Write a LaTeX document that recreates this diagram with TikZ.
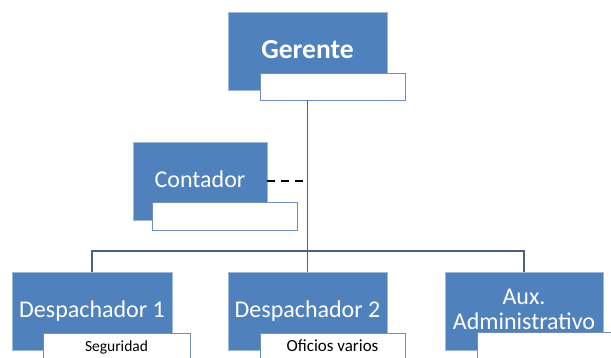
\documentclass[tikz,border=0pt]{standalone}
\usepackage{fontspec}
\setmainfont{Carlito}
\usepackage{tikz}
\usetikzlibrary{calc}
\definecolor{boxblue}{HTML}{4F81BD}
\definecolor{boxedge}{HTML}{9DB9DE}
\definecolor{subedge}{HTML}{6F8FBA}
\definecolor{linkcol}{HTML}{4A6480}

\begin{document}
\begin{tikzpicture}[x=1pt,y=-1pt,
  rolebox/.style={rectangle,fill=boxblue,draw=boxedge,line width=.6pt,text=white,
    align=center,inner sep=0pt,font=\fontsize{24}{25}\selectfont},
  subbox/.style={rectangle,fill=white,draw=subedge,line width=.8pt,text=black,
    inner sep=0pt,minimum height=28,font=\fontsize{15.5}{17}\selectfont},
  link/.style={draw=linkcol,line width=1.8pt}]
  \useasboundingbox (0,0) rectangle (611,358);
  \node[rolebox,minimum width=159,minimum height=78,font=\fontsize{27.5}{30}\selectfont\bfseries] (ger) at (307.5,51) {\raisebox{4pt}{Gerente}};
  \node[subbox,minimum width=145,minimum height=27] (gersub) at (332.5,86.5) {};
  \node[rolebox,minimum width=134,minimum height=78] (cont) at (200,181) {\raisebox{4pt}{Contador}};
  \node[subbox,minimum width=145] (contsub) at (224.5,216) {};
  \node[rolebox,minimum width=160,minimum height=78] (d1) at (92,311) {\raisebox{4pt}{Despachador 1}};
  \node[subbox,minimum width=147,minimum height=30] (d1sub) at (116.5,348) {\raisebox{4pt}{Seguridad}};
  \node[rolebox,minimum width=159,minimum height=78] (d2) at (307.5,311) {\raisebox{4pt}{Despachador 2}};
  \node[subbox,minimum width=145,minimum height=30,font=\fontsize{17}{19}\selectfont] (d2sub) at (332.5,348) {\raisebox{4pt}{Oficios varios}};
  \node[rolebox,minimum width=158,minimum height=78] (aux) at (524,311) {\raisebox{4pt}{Aux.}\\\raisebox{4pt}{Administrativo}};
  \node[subbox,minimum width=140,minimum height=30] (auxsub) at (547,347) {};
  \coordinate (bus) at (307.5,251);
  \draw[link] (ger.south |- gersub.south) -- (d2.north);
  \draw[link] (d1.north) |- (bus) -| (aux.north);
  \draw[line width=2pt,dash pattern=on 8pt off 6pt] (cont.east) -- (cont.east -| ger.south);
\end{tikzpicture}
\end{document}
